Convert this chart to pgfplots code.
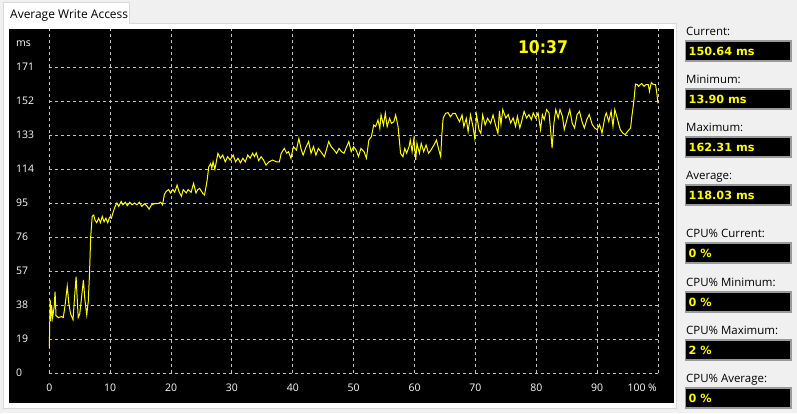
\documentclass[border=0pt]{standalone}
\usepackage{pgfplots}
\pgfplotsset{compat=1.18}
\usepackage{fontspec}
\setmainfont{Open Sans}
\newfontfamily\valfamily{DejaVu Sans}
\newfontfamily\clockfamily{DejaVu Sans Condensed}
\definecolor{bg}{HTML}{F0F0F0}
\definecolor{gridc}{HTML}{C0C0C0}
\definecolor{yel}{HTML}{FFFF00}
\definecolor{boxb}{HTML}{9A9A9A}
\definecolor{tabb}{HTML}{D9D9D9}
\newcommand{\tickfont}{\fontsize{10.5}{12}\selectfont}
\newcommand{\lblfont}{\fontsize{11.5}{13}\selectfont}
\newcommand{\valfont}{\valfamily\bfseries\fontsize{11.3}{13}\selectfont}
\newcommand{\statbox}[3]{%
  \node[anchor=base west, inner sep=0pt, font=\lblfont, text=black] at (686,{413-#3+6}) {#1};
  \filldraw[fill=black, draw=boxb, line width=1.5bp] (685.5,{413-#3}) rectangle (791,{413-#3-20});
  \node[anchor=base west, inner sep=0pt, text=yel, font=\valfont] at (688.5,{413-#3-14}) {#2};
}
\begin{document}
\begin{tikzpicture}[x=1bp,y=1bp]
\useasboundingbox (0,0) rectangle (797,413);
\fill[bg] (0,0) rectangle (797,413);
\filldraw[fill=white, draw=tabb] (3.5,4.5) rectangle (676.5,389.5);
\filldraw[fill=white, draw=tabb] (3.5,389.5) rectangle (129.5,411);
\fill[white] (4,388.5) rectangle (129,390.5);
\node[anchor=base west, inner sep=0pt, font=\fontsize{12}{14}\selectfont] at (10,394.5) {Average Write Access};
\fill[black] (9,10) rectangle (674,384);
\begin{axis}[
  at={(49.3bp,40bp)}, anchor=south west,
  scale only axis, width=608.7bp, height=306bp,
  xmin=0, xmax=100, ymin=0, ymax=171,
  clip=false,
  axis line style={draw=none},
  major tick length=0pt,
  xtick={0,10,...,90},
  extra x ticks={100}, extra x tick labels={100 \%},
  extra x tick style={xticklabel style={anchor=east, xshift=-1bp}},
  ytick={0,19,...,171},
  /pgf/number format/assume math mode=true,
  tick label style={font=\tickfont, text=white, inner sep=0pt},
  xticklabel style={anchor=center, yshift=-15bp},
  yticklabel style={anchor=west, xshift=-33.3bp},
]
\pgfplotsinvokeforeach{0,19,...,171}{\draw[gridc, dash pattern=on 3bp off 3bp, line width=0.9bp] (axis cs:0,#1) -- (axis cs:100,#1);}
\pgfplotsinvokeforeach{0,10,...,100}{\draw[gridc, dash pattern=on 3bp off 3bp, line width=0.9bp] (axis cs:#1,0) -- (axis cs:#1,192.3);}
\addplot[yel, line width=1bp] coordinates {
(0.0,13.9) (0.08,30) (0.15,41) (0.25,29) (0.38,38) (0.55,31) (0.8,37) (0.95,45.5) (1.1,32) (1.5,31)
(2.0,31.5) (2.3,31) (2.6,38) (2.95,48.5) (3.2,39) (3.5,33) (3.9,29.8) (4.1,40) (4.4,53.8) (4.75,31)
(5.0,33) (5.2,39) (5.6,52) (5.85,41) (6.15,32.5) (6.4,40) (6.6,55) (6.8,76) (7.05,87.5) (7.3,88.3)
(7.5,85.5) (7.8,84) (8.1,86.5) (8.4,84) (8.7,87.5) (9.0,84.5) (9.3,86.5) (9.6,84) (9.9,87) (10.2,86.5)
(10.5,90) (10.8,93) (11.1,95) (11.4,93.1) (11.8,95.9) (12.1,94) (12.5,95.4) (12.8,93.5) (13.2,95.4) (13.6,94)
(14.0,95) (14.4,94) (14.8,95.4) (15.2,93.1) (15.6,94.6) (16.0,93.5) (16.4,91.6) (16.8,94) (17.3,94.6) (17.8,94.6)
(18.3,95.4) (18.6,94) (18.9,99.7) (19.2,101.5) (19.6,102.5) (19.9,100.6) (20.3,102.5) (20.6,101) (21.0,105) (21.3,101.5)
(21.7,98.7) (22.0,102.5) (22.5,100.6) (22.8,102.5) (23.3,101) (23.7,106) (24.1,100.6) (24.4,102.5) (24.7,103.2) (25.2,100.4)
(25.5,99.5) (25.9,107) (26.2,115.3) (26.5,117) (26.7,114.4) (26.9,118) (27.2,113.8) (27.7,122.8) (28.1,120) (28.5,121.8)
(28.9,118) (29.3,120.9) (29.7,119) (30.2,121.8) (30.6,118) (31.0,120) (31.4,117.5) (31.8,120) (32.2,118) (32.6,121.8)
(33.0,120) (33.4,122.8) (33.7,120.9) (34.0,123) (34.4,118.7) (34.8,120.9) (35.2,119) (35.6,116.2) (36.1,118) (36.7,119)
(37.3,118) (37.8,118) (38.1,122.8) (38.6,125.5) (39.0,122.8) (39.3,123.7) (39.7,120) (40.1,126.5) (40.6,124.6) (41.0,131)
(41.4,124.6) (41.7,121.8) (42.2,126.5) (42.6,129.3) (43.0,122.8) (43.4,126.5) (43.8,121.8) (44.2,125.5) (44.6,123.7) (45.2,120.9)
(45.9,129.3) (46.3,126.5) (46.8,124.6) (47.2,122.8) (47.6,125.5) (48.0,123.7) (48.4,122.8) (49.2,129.3) (49.6,123.7) (50.0,126.5)
(50.4,124.6) (50.8,121) (51.2,125.5) (51.7,123.7) (52.1,120) (52.5,130.2) (52.9,132) (53.3,138.6) (53.6,137.7) (54.0,141.4)
(54.3,136.7) (54.5,144.2) (54.9,138.6) (55.2,145.1) (55.5,137.7) (55.9,142.3) (56.2,139.5) (56.6,140.4) (56.9,144.2) (57.3,137.7)
(57.7,122.8) (58.1,120.9) (58.4,125.5) (58.7,122.8) (59.1,126.5) (59.3,130.2) (59.6,123.7) (59.9,131.1) (60.2,119) (60.4,128.3)
(60.8,122.8) (61.1,128.3) (61.5,123.7) (61.9,127.4) (62.3,122.8) (62.7,124.6) (63.2,127.4) (63.6,130.2) (64.0,124.6) (64.3,120.9)
(64.5,133.9) (64.7,142.3) (65.1,145.1) (65.5,145.5) (65.9,143.2) (66.3,145.1) (66.7,145.1) (67.1,142.3) (67.4,140.4) (67.8,144.2)
(68.1,137.7) (68.5,142.3) (68.8,134.9) (69.2,144.2) (69.6,137.7) (69.9,131.1) (70.2,144.2) (70.6,135.8) (70.9,133.9) (71.2,144.2)
(71.6,138.6) (72.0,142.3) (72.5,139.5) (72.9,144.2) (73.3,138.6) (73.7,133.9) (73.95,146.5) (74.2,138.8) (74.5,147.2) (75.0,142.5)
(75.4,144.4) (75.8,139.7) (76.2,142.5) (76.6,137.8) (76.9,143.4) (77.3,136.9) (77.6,140.6) (78.0,146.2) (78.4,142.5) (78.8,144.4)
(79.2,141.6) (79.5,145.3) (79.9,142.5) (80.3,145.3) (80.7,136) (81.0,144.4) (81.3,141.6) (81.7,147.2) (82.1,145.3) (82.3,137.8)
(82.6,125.7) (82.9,139.7) (83.2,147.2) (83.6,142.5) (83.9,147.2) (84.3,143.4) (84.6,136) (85.1,142.5) (85.5,147.2) (85.9,139.7)
(86.3,136.9) (86.7,144.4) (87.1,146.2) (87.5,140.6) (87.9,136.9) (88.3,141.6) (88.7,144.4) (89.2,138.8) (89.6,136.9) (90.0,136)
(90.4,138.8) (90.8,134.1) (91.3,143.4) (91.5,145.3) (91.9,140.6) (92.3,146.2) (92.6,137.8) (92.9,147.2) (93.3,142.5) (93.5,139.7)
(93.8,136) (94.2,134.1) (94.6,133.2) (95.0,135) (95.5,136.9) (95.7,143.4) (96.0,150.9) (96.3,161.5) (96.6,161.1) (96.8,160.2)
(97.3,161.8) (97.7,160.2) (98.0,161.1) (98.4,161.1) (98.6,157.4) (98.9,162.31) (99.1,161.5) (99.6,161.1) (99.8,156.5) (100,150.64)
};
\end{axis}
\node[anchor=west, inner sep=0pt, text=white, font=\tickfont] at (16,369.5) {ms};
\node[anchor=base, inner sep=0pt, text=yel, font=\clockfamily\bfseries\fontsize{17.5}{20}\selectfont] at (543,360) {10:37};
\statbox{Current:}{150.64 ms}{41}
\statbox{Minimum:}{13.90 ms}{89}
\statbox{Maximum:}{162.31 ms}{137}
\statbox{Average:}{118.03 ms}{185}
\statbox{CPU\% Current:}{0 \%}{243}
\statbox{CPU\% Minimum:}{0 \%}{292}
\statbox{CPU\% Maximum:}{2 \%}{340}
\statbox{CPU\% Average:}{0 \%}{388}
\end{tikzpicture}
\end{document}
